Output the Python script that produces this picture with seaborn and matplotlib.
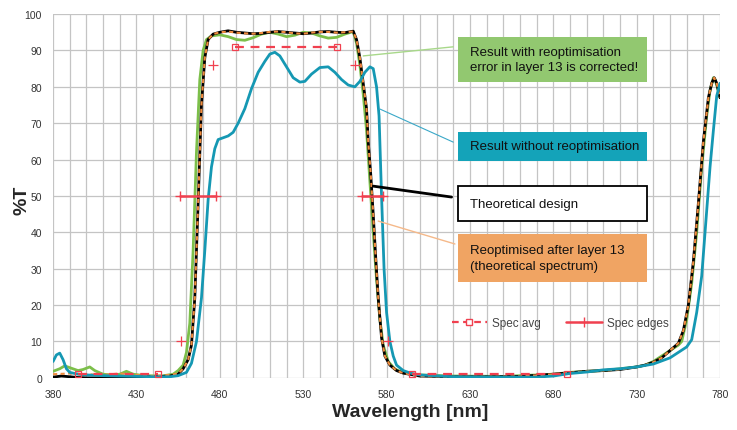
import numpy as np
import pandas as pd
import seaborn as sns
import matplotlib.pyplot as plt
from matplotlib.patches import Rectangle
from matplotlib.lines import Line2D

# ---- data ----
wl_theory = [380, 385, 390, 395, 400, 410, 420, 430, 440, 450, 455, 458, 461, 463, 465, 467, 469, 471,
             473, 476, 480, 485, 490, 495, 500, 505, 510, 515, 520, 525, 530, 535, 540, 545, 550, 555,
             560, 562, 564, 566, 568, 569, 570.5, 572, 573.5, 575, 577, 579, 582, 586, 590, 600, 620,
             640, 660, 680, 690, 700, 710, 720, 730, 735, 740, 745, 750, 755, 758, 761, 764, 767, 770,
             773, 775, 776.5, 778, 780]
t_theory = [0.2, 0.5, 0.3, 0.1, 0.0, 0.0, 0.1, 0.2, 0.3, 0.5, 1.0, 2.5, 5, 9, 22, 48, 75, 88,
            93, 94.5, 95, 95.4, 95, 94.8, 94.6, 94.7, 95, 95.2, 95, 94.8, 94.6, 94.8, 95.1, 95.2, 95, 94.9,
            95.3, 93, 88, 81, 74, 65, 56, 45, 33, 22, 11, 6, 3.5, 2, 1.3, 0.5, 0.3,
            0.3, 0.4, 1.0, 1.4, 1.8, 2.0, 2.3, 3.0, 3.5, 4.3, 5.5, 7.5, 9.5, 13, 20, 32, 48, 65,
            77, 81, 82.5, 81, 77]

wl_reopt = [380, 385, 390, 395, 400, 405, 410, 415, 420, 425, 430, 440, 450, 455, 458, 461, 463, 465,
            467, 469, 471, 473, 476, 480, 485, 490, 495, 500, 505, 510, 515, 520, 525, 530, 535, 540,
            545, 550, 555, 560, 562, 564, 566, 568, 569, 570.5, 572, 573.5, 575, 577, 579, 582, 586,
            590, 600, 620, 640, 660, 680, 690, 700, 710, 720, 730, 735, 740, 745, 750, 755, 758, 761,
            764, 767, 770, 773, 775, 776.5, 778, 780]
t_reopt = [1.0, 1.1, 1.2, 1.1, 1.0, 0.9, 0.8, 1.0, 1.2, 1.0, 0.8, 0.5, 0.8, 1.2, 2.5, 5, 9, 22,
           48, 75, 88, 93, 94.5, 95, 95.2, 94.9, 94.7, 94.6, 94.8, 95.1, 95.2, 95, 94.7, 94.6, 94.9, 95.1,
           95.1, 94.9, 95, 95.2, 93, 88, 81, 74, 65, 56, 45, 33, 22, 11, 6, 3.5, 2,
           1.3, 0.5, 0.3, 0.3, 0.4, 1.0, 1.4, 1.8, 2.0, 2.3, 3.0, 3.5, 4.3, 5.5, 7.5, 9.5, 13, 20,
           32, 48, 65, 77, 81, 82.5, 81, 77]

wl_corrected = [380, 384, 387, 390, 395, 398, 402, 405, 410, 415, 420, 424, 428, 435, 445, 452, 455, 458,
                460, 462, 464, 466, 468, 470, 472, 475, 480, 485, 490, 495, 500, 505, 510, 515, 520,
                525, 530, 535, 540, 545, 550, 555, 560, 562, 564, 566, 568, 570, 572, 574, 576, 578,
                581, 585, 590, 600, 620, 650, 680, 690, 700, 710, 720, 730, 735, 740, 745, 750, 755,
                757, 760, 763, 766, 769, 772, 774, 776, 777, 778, 780]
t_corrected = [1.8, 2.5, 3.3, 2.8, 2.0, 2.3, 3.0, 2.0, 1.0, 0.8, 1.0, 1.8, 1.0, 0.6, 0.5, 1.0, 2.0, 3.5,
               7, 15, 35, 62, 82, 90, 93, 94, 94.3, 93.8, 93, 92.8, 93.5, 94.5, 95, 94.5, 93.8,
               94.2, 95, 94.8, 94, 93.4, 93.6, 94.5, 95.2, 92, 86, 78, 68, 54, 40, 27, 16, 9,
               4.5, 2.4, 1.4, 0.8, 0.5, 0.4, 1.0, 1.5, 1.8, 2.0, 2.5, 3.0, 3.5, 4.5, 6, 7.5, 9,
               10, 16, 26, 40, 58, 72, 79, 82.5, 82, 80.5, 77]

wl_noreopt = [380, 382, 384, 386, 388, 390, 395, 400, 410, 420, 430, 440, 450, 455, 460, 463, 466, 469,
              471, 473, 475, 477, 479, 482, 485, 488, 491, 495, 499, 503, 507, 510, 513, 516, 520,
              524, 528, 531, 535, 540, 545, 549, 553, 557, 561, 564, 567, 570, 572, 574, 575.5, 577,
              578.5, 580, 582, 584, 586, 590, 595, 600, 620, 650, 670, 680, 690, 700, 710, 720, 730,
              740, 750, 755, 760, 763, 766, 769, 771, 774, 776, 778, 780]
t_noreopt = [4.5, 6.3, 6.8, 5, 2.5, 1.5, 1.0, 0.8, 0.6, 0.5, 0.4, 0.3, 0.3, 0.6, 1.5, 4, 10, 22,
             35, 49, 58, 63, 65.5, 66, 66.5, 67.5, 70, 74, 79.5, 84, 87, 89, 89.5, 88.5, 85.5,
             82.5, 81.3, 81.5, 83.5, 85.3, 85.5, 84, 82, 80.5, 80, 81.5, 84, 85.5, 85, 80, 72, 50,
             30, 18, 10, 6, 3.5, 2, 1.2, 0.8, 0.3, 0.2, 0.2, 0.5, 1.2, 1.6, 2.2, 2.5, 3.0,
             3.8, 5.5, 7, 8.5, 10.5, 18, 28, 40, 58, 68, 77.5, 81]

# spec: averages (flat dashed segments) and edge tolerances
avg_segments = [([395, 443], [1, 1]), ([489, 550], [91, 91]), ([595, 688], [1, 1])]
edge_segments = [([456, 478], [50, 50]), ([565, 578], [50, 50])]
edge_points_x = [457, 476, 561, 581]
edge_points_y = [10, 86, 86, 10]

GREEN = "#7cbf4a"
BLUE = "#1598b3"
ORANGE = "#f08c3e"
RED = "#f0404f"

sns.set_style("white")
plt.rcParams['font.family'] = ['Liberation Sans', 'DejaVu Sans']

fig = plt.figure(figsize=(7.37, 4.31), dpi=100)
ax = fig.add_axes([0.072, 0.121, 0.905, 0.844])

def draw(x, y, **kw):
    df = pd.DataFrame({"wl": x, "T": y})
    sns.lineplot(data=df, x="wl", y="T", ax=ax, estimator=None, sort=False, **kw)

draw(wl_corrected, t_corrected, color=GREEN, lw=2.0, zorder=3)
draw(wl_theory, t_theory, color="black", lw=2.0, zorder=4)
draw(wl_reopt, t_reopt, color=ORANGE, lw=1.5, dashes=(2, 1.6), zorder=5)
draw(wl_noreopt, t_noreopt, color=BLUE, lw=2.0, zorder=6)

for xs, ys in avg_segments:
    ax.plot(xs, ys, color=RED, lw=1.6, dashes=(4, 3), marker="s", ms=5,
            mfc="none", mec=RED, mew=0.9, zorder=7)
for xs, ys in edge_segments:
    ax.plot(xs, ys, color=RED, lw=1.8, marker="+", ms=7, mew=1.0, zorder=7)
sns.scatterplot(x=edge_points_x, y=edge_points_y, ax=ax, marker="+", s=50,
                color=RED, linewidth=0.9, zorder=7)

ax.set_xlim(380, 780)
ax.set_ylim(0, 100)
ax.set_xticks(np.arange(380, 781, 50))
ax.set_xticks(np.arange(380, 781, 10), minor=True)
ax.set_yticks(np.arange(0, 101, 10))
ax.grid(which="both", color="#c4c4c4", lw=0.9)
ax.set_axisbelow(True)
for s in ax.spines.values():
    s.set_visible(False)
ax.tick_params(axis="both", which="both", length=0, labelsize=7.5, colors="#333333", pad=8)
ax.set_xlabel("")
ax.set_ylabel("")

fig.text(0.557, 0.043, "Wavelength [nm]", fontsize=14, fontweight="bold", ha="center", va="center")
fig.text(0.03, 0.535, "%T", fontsize=14, fontweight="bold", rotation=90, ha="center", va="center")

# annotation boxes
boxes = [
    (81.3, 93.7, "#92c870", "none", "Result with reoptimisation\nerror in layer 13 is corrected!"),
    (59.6, 67.6, "#14a3b9", "none", "Result without reoptimisation"),
    (43.1, 52.7, "white", "black", "Theoretical design"),
    (26.4, 39.6, "#f0a463", "none", "Reoptimised after layer 13\n(theoretical spectrum)"),
]
for y0, y1, fc, ec, txt in boxes:
    ax.add_patch(Rectangle((622.8, y0), 113.5, y1 - y0, facecolor=fc, edgecolor=ec,
                           lw=1.3 if ec != "none" else 0, zorder=8))
    ax.text(630, (y0 + y1) / 2, txt, fontsize=9.5, ha="left", va="center", zorder=9,
            linespacing=1.4, color="#111111")

leaders = [
    ((620, 566), (91, 88.5), "#a8d88a", 1.0),
    ((620, 576), (64.8, 73.9), "#3aa8c8", 0.8),
    ((619, 572), (49.7, 52.7), "black", 2.0),
    ((621, 575), (36.8, 43.1), "#f5b98a", 1.0),
]
for xs, ys, c, w in leaders:
    ax.plot(xs, ys, color=c, lw=w, zorder=8)

handles = [
    Line2D([], [], color=RED, lw=1.6, dashes=(3, 2), marker="s", ms=5, mfc="white", mec=RED),
    Line2D([], [], color=RED, lw=1.8, marker="+", ms=7),
]
ax.legend(handles, ["Spec avg", "Spec edges"], loc="center", bbox_to_anchor=(0.76, 0.15),
          ncol=2, frameon=False, fontsize=8.5, handlelength=3.0, columnspacing=2.2,
          labelcolor="#444444", handletextpad=0.4)

fig.savefig("out.png", dpi=100)
